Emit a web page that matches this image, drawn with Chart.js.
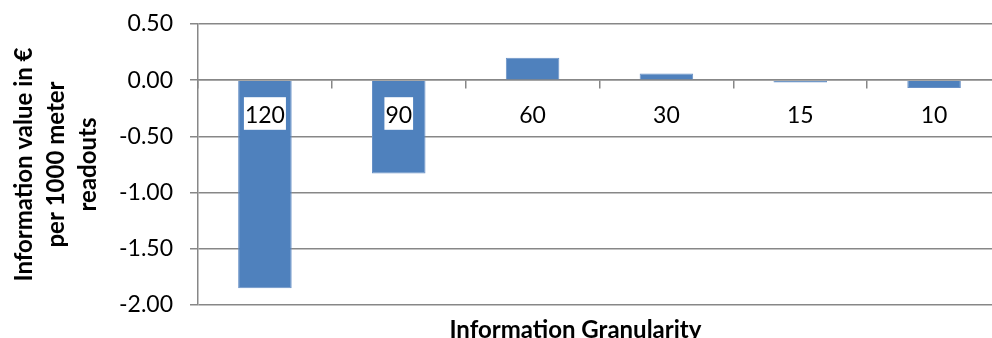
<!DOCTYPE html>
<html>
<head>
<meta charset="utf-8">
<script src="https://cdn.jsdelivr.net/npm/chart.js@4/dist/chart.umd.min.js"></script>
<style>
  html, body { margin: 0; padding: 0; background: #ffffff; overflow: hidden; }
  #wrap { position: absolute; left: 0; top: 0; width: 1010px; height: 343px; }
</style>
</head>
<body>
<div id="wrap"><canvas id="chart"></canvas></div>
<script>
// Information value per granularity step (minutes)
const granularities = ['120', '90', '60', '30', '15', '10'];
const infoValues = [-1.85, -0.83, 0.20, 0.06, -0.02, -0.07];

// Value axis range
const yMin = -2.0;
const yMax = 0.5;
const yStep = 0.5;

const yTitle = ['Information value in €', 'per 1000 meter', 'readouts'];
const xTitle = 'Information Granularity';

const FONT = 'Lato, "Open Sans", sans-serif';
const GRID = '#878787';

// Horizontal axis title drawn under the plot
const xTitlePlugin = {
  id: 'xTitle',
  afterDraw(chart) {
    const { ctx, chartArea } = chart;
    ctx.save();
    ctx.font = 'bold 24px ' + FONT;
    ctx.fillStyle = '#000000';
    ctx.textAlign = 'center';
    ctx.textBaseline = 'middle';
    const x = chartArea.left + (chartArea.right - chartArea.left) * 0.47;
    ctx.fillText(xTitle, x, chartArea.bottom + 25.5);
    ctx.restore();
  }
};

new Chart(document.getElementById('chart'), {
  type: 'bar',
  data: {
    labels: granularities,
    datasets: [{
      data: infoValues,
      backgroundColor: '#4F81BD',
      borderColor: '#6890c6',
      borderWidth: 1,
      barPercentage: 0.4,
      categoryPercentage: 1.0
    }]
  },
  options: {
    responsive: true,
    maintainAspectRatio: false,
    animation: false,
    layout: { padding: { top: 24, right: 9, bottom: 38, left: 0 } },
    plugins: {
      legend: { display: false },
      tooltip: { enabled: false }
    },
    scales: {
      x: {
        type: 'category',
        position: { y: 0 },
        offset: true,
        grid: {
          display: true,
          drawOnChartArea: false,
          drawTicks: true,
          tickLength: 8,
          color: GRID,
          lineWidth: 1.5,
          offset: true
        },
        border: { display: true, color: GRID, width: 1.5 },
        ticks: {
          color: '#000000',
          font: { family: FONT, size: 23 },
          padding: 14,
          maxRotation: 0,
          autoSkip: false,
          showLabelBackdrop: true,
          backdropColor: '#ffffff',
          backdropPadding: { top: 5, bottom: 0, left: 1, right: 1 },
          z: 1
        }
      },
      y: {
        min: yMin,
        max: yMax,
        position: 'left',
        afterFit(scale) {
          scale.width = 198;
          scale.paddingTop = 0;
          scale.paddingBottom = 0;
        },
        grid: {
          color: GRID,
          lineWidth: 1.5,
          tickLength: 8,
          drawTicks: true
        },
        border: { display: true, color: GRID, width: 1.5 },
        ticks: {
          stepSize: yStep,
          color: '#000000',
          font: { family: FONT, size: 23 },
          padding: 17,
          callback: (v) => Number(v).toFixed(2)
        },
        title: {
          display: true,
          text: yTitle,
          color: '#000000',
          font: { family: FONT, size: 24, weight: 'bold', lineHeight: 1.333 },
          padding: { top: 8, bottom: 0 }
        }
      }
    }
  },
  plugins: [xTitlePlugin]
});
</script>
</body>
</html>
